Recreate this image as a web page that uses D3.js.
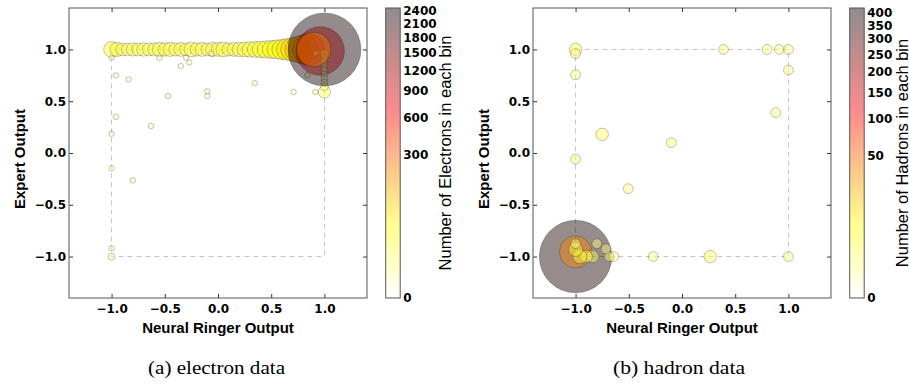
<!DOCTYPE html>
<html>
<head>
<meta charset="utf-8">
<script src="https://cdn.jsdelivr.net/npm/d3@7"></script>
<style>
  html, body { margin: 0; padding: 0; background: #fff; }
  svg { display: block; }
</style>
</head>
<body>
<svg id="chart" width="909" height="389"></svg>
<script>
// ---- data (bins are drawn in the order listed, like plt.scatter) ----
const axisTicks = [-1, -0.5, 0, 0.5, 1];

// electron bins (x = neural ringer output, y = expert output, count)
const electronX = [
  -1.00, -0.95, -0.90, -0.85, -0.80, -0.75, -0.70, -0.65, -0.60, -0.55, -0.50,
  -0.45, -0.40, -0.35, -0.30, -0.25, -0.20, -0.15, -0.10, -0.05, 0.00,
  0.05, 0.10, 0.15, 0.20, 0.25, 0.30, 0.35, 0.40, 0.45, 0.50,
  0.55, 0.60, 0.65, 0.70, 0.75, 0.80, 0.85, 0.96,
  -1.00, -0.96, -0.84, -0.55, -0.30, -0.27, -0.35, -0.06, -0.47, -0.10, -0.10,
  0.345, 0.71, 0.915, 0.84, 1.00, -0.96, -0.63, -1.00, -1.00, -0.80, -1.00, -1.00,
  1.00, 1.00, 1.00, 1.00, 1.00, 1.00, 1.00, 1.00, 1.00, 0.93, 0.915,
  1.00, 0.90
];
const electronY = [
  1, 1, 1, 1, 1, 1, 1, 1, 1, 1, 1,
  1, 1, 1, 1, 1, 1, 1, 1, 1, 1,
  1, 1, 1, 1, 1, 1, 1, 1, 1, 1,
  1, 1, 1, 1, 1, 1, 1, 0.985,
  0.92, 0.75, 0.71, 0.92, 0.92, 0.875, 0.84, 0.96, 0.55, 0.595, 0.55,
  0.675, 0.59, 0.59, 0.75, 0.59, 0.35, 0.26, 0.185, -0.147, -0.265, -0.92, -1.00,
  0.96, 0.92, 0.88, 0.84, 0.80, 0.76, 0.72, 0.68, 0.64, 0.97, 0.96,
  1.00, 1.00
];
const electronCount = [
  24, 17, 13, 12, 14, 13, 15, 13, 14, 18, 15,
  17, 14, 16, 13, 20, 14, 16, 13, 17, 16,
  20, 14, 16, 18, 20, 22, 24, 27, 31, 36,
  42, 50, 62, 80, 110, 150, 200, 700,
  1, 1, 1, 1, 1, 1, 1, 1, 1, 1, 1,
  1, 1, 1, 1, 11, 1, 1, 1, 1, 1, 1, 2,
  4, 2, 2, 2, 2, 2, 2, 2, 3, 1, 1,
  2400, 250
];
const electronCbTicks = [0, 300, 600, 900, 1200, 1500, 1800, 2100, 2400];

// hadron bins
const hadronX = [
  -1.00, -1.00, -1.00, -1.00, -1.00, -0.75, -0.10, -0.505, 0.39, 0.80, 0.915, 1.00,
  1.00, 0.88, 1.00, -0.27, 0.265, -0.64, -0.685, -0.715, -0.80, -1.00, -0.84, -0.90,
  -0.96, -1.00, -1.00
];
const hadronY = [
  -1.00, 1.00, 0.96, 0.755, -0.06, 0.18, 0.10, -0.345, 1.00, 1.00, 1.00, 1.00,
  0.80, 0.39, -1.00, -1.00, -1.00, -1.00, -1.00, -0.925, -0.875, -0.955, -1.00, -1.00,
  -1.00, -0.93, -0.875
];
const hadronCount = [
  400, 2, 1, 1, 1, 2, 1, 1, 1, 1, 1, 1,
  1, 1, 1, 1, 2, 1, 1, 1, 1, 35, 2, 2,
  3, 3, 1
];
const hadronCbTicks = [0, 50, 100, 150, 200, 250, 300, 350, 400];

// ---- layout ----
const svg = d3.select('#chart');
svg.append('rect').attr('width', 909).attr('height', 389).attr('fill', '#fff');

const plotW = 298, plotH = 290, plotTop = 8;
const maxRadius = 36.9;
const fillAlpha = 0.45;

// matplotlib "hot_r"
const hotR = d3.scaleLinear()
  .domain([0, 0.254, 0.635, 1])
  .range(['#ffffff', '#ffff00', '#ff0000', '#0b0000'])
  .interpolate(d3.interpolateRgb)
  .clamp(true);

const panels = [
  {
    id: 'a', left: 69, vmax: 2480,
    xs: electronX, ys: electronY, counts: electronCount,
    cbTicks: electronCbTicks, cbLabel: 'Number of Electrons in each bin',
    cbLabelX: 445, caption: '(a) electron data', captionX: 216.5, captionW: 137,
  },
  {
    id: 'b', left: 533, vmax: 422,
    xs: hadronX, ys: hadronY, counts: hadronCount,
    cbTicks: hadronCbTicks, cbLabel: 'Number of Hadrons in each bin',
    cbLabelX: 901.5, caption: '(b) hadron data', captionX: 679, captionW: 132,
  },
];

const defs = svg.append('defs');

panels.forEach((p) => {
  const g = svg.append('g').attr('id', 'panel-' + p.id);

  const x = d3.scaleLinear().domain([-1.4, 1.4]).range([p.left, p.left + plotW]);
  const y = d3.scaleLinear().domain([-1.4, 1.4]).range([plotTop + plotH, plotTop]);
  const norm = d3.scalePow().exponent(1 / 3).domain([0, p.vmax]).range([0, 1]).clamp(true);

  defs.append('clipPath').attr('id', 'clip-' + p.id)
    .append('rect')
    .attr('x', p.left).attr('y', plotTop)
    .attr('width', plotW).attr('height', plotH);

  // dashed reference box
  g.append('rect')
    .attr('x', x(-1)).attr('y', y(1))
    .attr('width', x(1) - x(-1)).attr('height', y(-1) - y(1))
    .attr('fill', 'none')
    .attr('stroke', '#c4c4c4')
    .attr('stroke-width', 1)
    .attr('stroke-dasharray', '5,4');

  const bins = p.xs.map((d, i) => ({ x: d, y: p.ys[i], n: p.counts[i] }));

  g.append('g')
    .attr('clip-path', `url(#clip-${p.id})`)
    .selectAll('circle')
    .data(bins)
    .enter()
    .append('circle')
    .attr('cx', d => x(d.x))
    .attr('cy', d => y(d.y))
    .attr('r', d => maxRadius * norm(d.n))
    .attr('fill', d => hotR(norm(d.n)))
    .attr('fill-opacity', fillAlpha)
    .attr('stroke', '#000')
    .attr('stroke-opacity', 0.3)
    .attr('stroke-width', 0.8);

  // axes (ticks inward on all four sides)
  const fmt = d3.format('.1f');
  const styleAxis = (sel) => {
    sel.select('.domain').remove();
    sel.selectAll('line').attr('stroke', '#333');
    sel.selectAll('text')
      .attr('fill', '#000')
      .style('font-family', '"DejaVu Sans", sans-serif')
      .style('font-weight', 'bold')
      .style('font-size', '12px');
  };
  g.append('g')
    .attr('transform', `translate(0,${plotTop + plotH})`)
    .call(d3.axisBottom(x).tickValues(axisTicks).tickSize(-4).tickPadding(6).tickFormat(fmt))
    .call(styleAxis);
  g.append('g')
    .attr('transform', `translate(0,${plotTop})`)
    .call(d3.axisTop(x).tickValues(axisTicks).tickSize(-4).tickFormat(''))
    .call(styleAxis);
  g.append('g')
    .attr('transform', `translate(${p.left},0)`)
    .call(d3.axisLeft(y).tickValues(axisTicks).tickSize(-4).tickPadding(3).tickFormat(fmt))
    .call(styleAxis);
  g.append('g')
    .attr('transform', `translate(${p.left + plotW},0)`)
    .call(d3.axisRight(y).tickValues(axisTicks).tickSize(-4).tickFormat(''))
    .call(styleAxis);

  g.append('rect')
    .attr('x', p.left).attr('y', plotTop)
    .attr('width', plotW).attr('height', plotH)
    .attr('fill', 'none')
    .attr('stroke', '#555')
    .attr('stroke-width', 1);

  // axis titles
  g.append('text')
    .attr('x', p.left + plotW / 2)
    .attr('y', 333)
    .attr('text-anchor', 'middle')
    .style('font-family', '"Liberation Sans", Arial, sans-serif')
    .style('font-weight', 'bold')
    .style('font-size', '15px')
    .text('Neural Ringer Output');
  g.append('text')
    .attr('transform', `translate(${p.left - 44},${plotTop + plotH / 2 + 6}) rotate(-90)`)
    .attr('text-anchor', 'middle')
    .style('font-family', '"Liberation Sans", Arial, sans-serif')
    .style('font-weight', 'bold')
    .style('font-size', '15px')
    .text('Expert Output');

  // colorbar
  const cbLeft = p.left + 316.7, cbW = 14.5;
  const cbY = d3.scalePow().exponent(1 / 3).domain([0, p.vmax]).range([plotTop + plotH, plotTop]);
  const grad = defs.append('linearGradient')
    .attr('id', 'grad-' + p.id)
    .attr('x1', 0).attr('y1', 1).attr('x2', 0).attr('y2', 0);
  grad.selectAll('stop')
    .data(d3.range(0, 1.0001, 0.05))
    .enter()
    .append('stop')
    .attr('offset', d => d)
    .attr('stop-color', d => hotR(d))
    .attr('stop-opacity', fillAlpha);

  g.append('rect')
    .attr('x', cbLeft).attr('y', plotTop)
    .attr('width', cbW).attr('height', plotH)
    .attr('fill', `url(#grad-${p.id})`)
    .attr('stroke', '#555')
    .attr('stroke-width', 1);

  g.append('g')
    .selectAll('text')
    .data(p.cbTicks)
    .enter()
    .append('text')
    .attr('x', cbLeft + cbW + 3)
    .attr('y', d => cbY(d))
    .attr('dy', '0.36em')
    .style('font-family', '"DejaVu Sans", sans-serif')
    .style('font-weight', 'bold')
    .style('font-size', '12px')
    .text(d => d);

  g.append('text')
    .attr('transform', `translate(${p.cbLabelX},${plotTop + plotH / 2}) rotate(-90)`)
    .attr('text-anchor', 'middle')
    .attr('dominant-baseline', 'central')
    .style('font-family', '"Liberation Sans", Arial, sans-serif')
    .style('font-size', '16.5px')
    .text(p.cbLabel);

  // caption
  g.append('text')
    .attr('x', p.captionX)
    .attr('y', 374)
    .attr('text-anchor', 'middle')
    .attr('textLength', p.captionW)
    .attr('lengthAdjust', 'spacingAndGlyphs')
    .style('font-family', '"Liberation Serif", "Times New Roman", serif')
    .style('font-size', '19px')
    .text(p.caption);
});
</script>
</body>
</html>
